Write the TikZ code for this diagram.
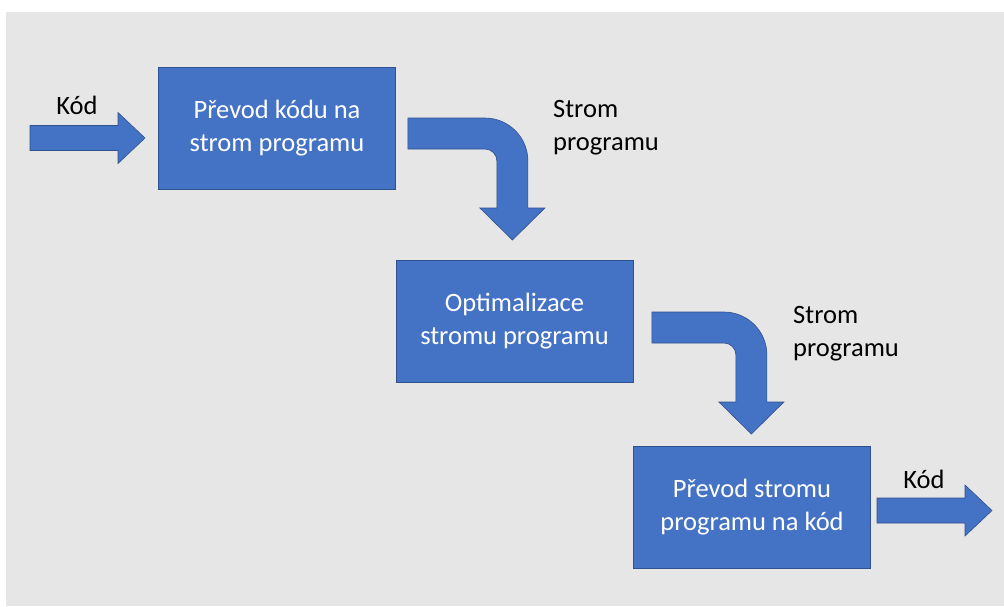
\documentclass[tikz,border=0pt]{standalone}
\usepackage{fontspec}
\setmainfont{Carlito}
\usepackage{tikz}
\usetikzlibrary{positioning, calc}
\definecolor{officeblue}{HTML}{4472C4}
\definecolor{blueline}{HTML}{2F528F}
\definecolor{panelgray}{HTML}{E7E6E6}

% block arrows drawn from a start point
\newcommand{\bentarrow}[2]{%
  \draw[blockarrow] (#1) -- ++(#2,0) arc[start angle=-90,end angle=0,radius=43]
    -- ++(0,47) -- ++(17,0) -- ++(-32.5,32) -- ++(-32.5,-32) -- ++(17,0)
    -- ++(0,-47) arc[start angle=0,end angle=-90,radius=12] -- ++(-#2,0) -- cycle;}
\newcommand{\straightarrow}[1]{%
  \draw[blockarrow] (#1) ++(0,-12.5) -- ++(88,0) -- ++(0,-13) -- ++(27,25.5)
    -- ++(-27,25.5) -- ++(0,-13) -- ++(-88,0) -- cycle;}

\begin{document}
\begin{tikzpicture}[
    x=1pt, y=-1pt,
    stage/.style={rectangle, draw=blueline, fill=officeblue, line width=0.8pt,
                  minimum width=237pt, minimum height=122pt, align=center,
                  text=white, font=\fontsize{26.5}{33}\selectfont},
    blockarrow/.style={draw=blueline, fill=officeblue, line width=0.6pt},
    lbl/.style={font=\fontsize{26.5}{33}\selectfont, align=left, inner sep=0pt}
]
    \useasboundingbox (0,0) rectangle (1004,606);
    \fill[panelgray] (6,12) rectangle (1004,606);

    \node[stage] (parse) at (277,128) {Převod kódu na\\strom programu};
    \node[stage] (optim) at (514.5,321) {Optimalizace\\stromu programu};
    \node[stage] (emit) at (752,507) {Převod stromu\\programu na kód};

    \coordinate (codein) at (30,138);
    \coordinate (codeout) at (877,510.5);

    \straightarrow{codein}
    \bentarrow{$(parse.east)+(12,-10)$}{77}
    \bentarrow{$(optim.east)+(18.5,-9)$}{72}
    \straightarrow{codeout}

    \node[lbl] (kodin) at (77,105) {Kód};
    \node[lbl, anchor=west] (tree1) at (553,127.5) {Strom\\programu};
    \node[lbl, anchor=west] (tree2) at (793,333.5) {Strom\\programu};
    \node[lbl] (kodout) at (924,479) {Kód};
\end{tikzpicture}
\end{document}
